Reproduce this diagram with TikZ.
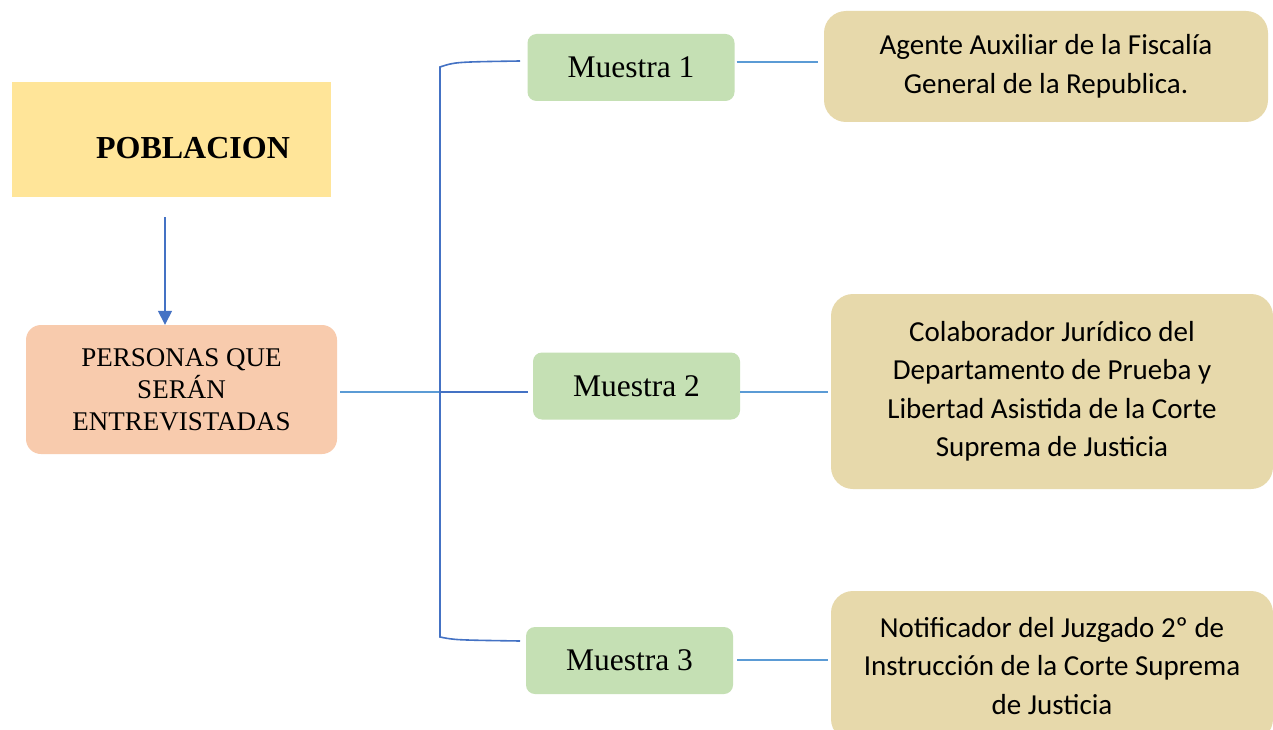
\documentclass[tikz,border=0pt]{standalone}
\usepackage{fontspec}
\setmainfont{Liberation Serif}
\newfontfamily\calib{Carlito}
\usetikzlibrary{arrows.meta}
\definecolor{ylw}{HTML}{FFE599}
\definecolor{peach}{HTML}{F8CBAD}
\definecolor{grn}{HTML}{C5E0B4}
\definecolor{tan}{HTML}{E7D9AB}
\definecolor{dblue}{HTML}{4472C4}
\definecolor{lblue}{HTML}{5B9BD5}
\tikzset{
  musbox/.style={fill=grn, rounded corners=9pt, minimum width=207pt, minimum height=67pt, inner sep=0pt, font=\fontsize{31.5}{36}\selectfont},
  infobox/.style={fill=tan, rounded corners=22pt, inner sep=0pt, align=center, font=\calib\fontsize{29}{38.5}\selectfont},
  conn/.style={lblue, line width=1.2pt},
  brk/.style={dblue, line width=1.6pt}
}
\begin{document}
\begin{tikzpicture}[x=1pt,y=-1pt]
\useasboundingbox (0,0) rectangle (1273,730);
\fill[white] (0,0) rectangle (1273,730);
% population
\node[fill=ylw, minimum width=319pt, minimum height=115pt, inner sep=0pt] (pob) at (171.5,139.5) {};
\node[font=\bfseries\fontsize{32}{36}\selectfont, anchor=center] (pobt) at (193,148) {POBLACION};
\node[fill=peach, rounded corners=15pt, minimum width=311pt, minimum height=129pt, inner sep=0pt, align=center, font=\fontsize{27}{32}\selectfont] (per) at (181.5,389.5) {PERSONAS QUE\\SERÁN\\ENTREVISTADAS};
\coordinate (atop) at (165,217);
\draw[dblue, line width=1.4pt, -{Triangle[length=14pt,width=14pt]}] (atop) -- (per.north -| atop);
% muestras
\node[musbox] (m1) at (631,67.5) {Muestra 1};
\node[musbox] (m2) at (636.5,386) {Muestra 2};
\node[musbox] (m3) at (629.5,660.5) {Muestra 3};
% info boxes
\node[infobox, minimum width=444pt, minimum height=111pt] (i1) at (1046,66.5) {Agente Auxiliar de la Fiscalía\\General de la Republica.};
\node[infobox, minimum width=442pt, minimum height=195pt] (i2) at (1052,391.5) {Colaborador Jurídico del\\Departamento de Prueba y\\Libertad Asistida de la Corte\\Suprema de Justicia};
\node[infobox, minimum width=442pt, minimum height=150pt] (i3) at (1052,666) {Notificador del Juzgado 2º de\\Instrucción de la Corte Suprema\\de Justicia};
% connectors
\coordinate (br) at (440,392);
\coordinate (t1) at (520,61);
\coordinate (t3) at (520,641);
\draw[conn] ([xshift=3pt]per.east |- br) -- (br);
\draw[brk] (br) -- ([xshift=-5pt]m2.west |- br);
\draw[brk] (t1) .. controls (455,62) .. (440,67) -- (440,637) .. controls (455,640) .. (t3);
\draw[conn] ([xshift=2pt]m1.east |- 0,62) -- ([xshift=-6pt]i1.west |- 0,62);
\draw[conn] ([xshift=0pt]m2.east |- 0,392) -- ([xshift=-3pt]i2.west |- 0,392);
\draw[conn] ([xshift=4pt]m3.east |- 0,660) -- ([xshift=-3pt]i3.west |- 0,660);
\end{tikzpicture}
\end{document}
